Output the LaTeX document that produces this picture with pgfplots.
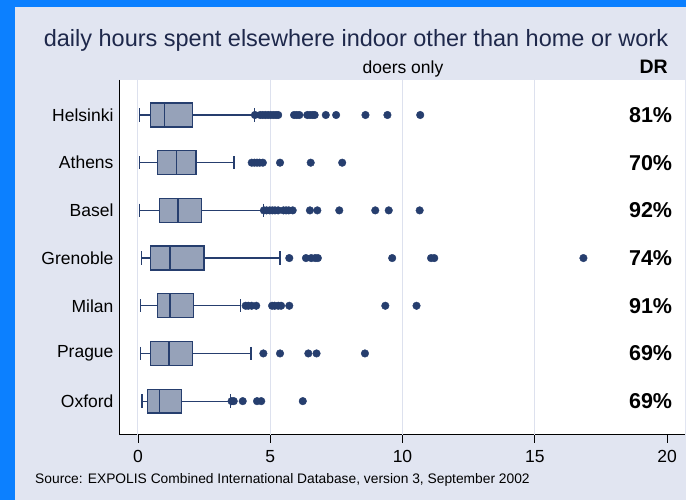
\documentclass[border=0pt]{standalone}
\usepackage{fontspec}
\setmainfont{Liberation Sans}
\usepackage{pgfplots}
\pgfplotsset{compat=1.18}
\usepgfplotslibrary{statistics}
\definecolor{bluebg}{RGB}{12,128,255}
\definecolor{lav}{RGB}{225,229,241}
\definecolor{navy}{RGB}{38,62,110}
\definecolor{boxfill}{RGB}{150,162,185}
\definecolor{gridc}{RGB}{221,225,238}
\definecolor{titlec}{RGB}{30,40,75}
\begin{document}
\begin{tikzpicture}
\fill[bluebg] (0,0) rectangle (686pt,500pt);
\fill[lav] (15pt,0) rectangle (686pt,493pt);
\node[anchor=base, text=titlec, font=\fontsize{23.5}{25}\selectfont, inner sep=0] at (356pt,453pt) {daily hours spent elsewhere indoor other than home or work};
\node[anchor=base, font=\fontsize{17.5}{18}\selectfont, inner sep=0] at (403pt,426pt) {doers only};
\node[anchor=base east, font=\fontsize{19.5}{20}\selectfont\bfseries, inner sep=0] at (668pt,426pt) {DR};
\node[anchor=base west, font=\fontsize{13.8}{15}\selectfont, inner sep=0] at (35pt,16pt) {Source: EXPOLIS Combined International Database, version 3, September 2002};
\begin{axis}[
  at={(120pt,65pt)}, anchor=south west,
  scale only axis, width=565pt, height=355pt,
  xmin=-0.68, xmax=20.68, ymin=0.266, ymax=7.71, y dir=reverse,
  axis background/.style={fill=white},
  axis x line*=bottom, axis y line*=left,
  axis line style={black, line width=1pt, -},
  xtick={0,5,10,15,20},
  extra x ticks={0,5,10,15}, extra x tick labels={},
  extra x tick style={grid=major, major tick length=0pt},
  grid style={gridc, line width=1pt},
  ytick={1,2,3,4,5,6,7},
  yticklabels={Helsinki,Athens,Basel,Grenoble,Milan,Prague,Oxford},
  ytick style={draw=none},
  x tick style={black, line width=0.8pt},
  major tick length=8pt, tick align=outside,
  tick label style={font=\fontsize{17.5}{18}\selectfont},
  xticklabel style={yshift=-4pt},
  yticklabel style={xshift=5pt},
  /pgf/number format/assume math mode=true,
  boxplot/draw direction=x,
  boxplot/box extend=0.5,
  boxplot/whisker extend=0.28,
  boxplot/every box/.style={draw=navy, fill=boxfill, line width=1.3pt},
  boxplot/every whisker/.style={draw=navy, line width=1.2pt},
  boxplot/every median/.style={draw=navy, line width=1.3pt},
  clip=false,
]
\pgfplotsset{bp/.style={color=navy, mark=*, mark size=3.8pt, mark options={fill=navy, draw=navy}}}
% Helsinki
\addplot[bp, boxplot prepared={draw position=1, lower whisker=0.05, lower quartile=0.48, median=1.0, upper quartile=2.05, upper whisker=4.39}]
 table[row sep=\\, y index=0] {4.42\\4.62\\4.72\\4.82\\4.92\\5.02\\5.12\\5.22\\5.3\\5.9\\6.0\\6.1\\6.4\\6.5\\6.6\\6.68\\7.1\\7.49\\8.6\\9.43\\10.67\\};
% Athens
\addplot[bp, boxplot prepared={draw position=2, lower whisker=0.05, lower quartile=0.73, median=1.46, upper quartile=2.19, upper whisker=3.63}]
 table[row sep=\\, y index=0] {4.3\\4.4\\4.5\\4.6\\4.72\\5.37\\6.53\\7.72\\};
% Basel
\addplot[bp, boxplot prepared={draw position=3, lower whisker=0.05, lower quartile=0.82, median=1.51, upper quartile=2.39, upper whisker=4.74}]
 table[row sep=\\, y index=0] {4.76\\4.86\\4.98\\5.08\\5.18\\5.3\\5.5\\5.6\\5.7\\5.85\\6.5\\6.78\\7.61\\8.97\\9.48\\10.65\\};
% Grenoble
\addplot[bp, boxplot prepared={draw position=4, lower whisker=0.14, lower quartile=0.48, median=1.21, upper quartile=2.5, upper whisker=5.37}]
 table[row sep=\\, y index=0] {5.72\\6.35\\6.55\\6.7\\6.8\\9.61\\11.08\\11.2\\16.84\\};
% Milan
\addplot[bp, boxplot prepared={draw position=5, lower whisker=0.08, lower quartile=0.74, median=1.21, upper quartile=2.1, upper whisker=3.89}]
 table[row sep=\\, y index=0] {4.07\\4.17\\4.3\\4.47\\5.07\\5.17\\5.3\\5.41\\5.72\\9.35\\10.53\\};
% Prague
\addplot[bp, boxplot prepared={draw position=6, lower whisker=0.1, lower quartile=0.48, median=1.17, upper quartile=2.05, upper whisker=4.27}]
 table[row sep=\\, y index=0] {4.74\\5.37\\6.44\\6.75\\8.58\\};
% Oxford
\addplot[bp, boxplot prepared={draw position=7, lower whisker=0.15, lower quartile=0.37, median=0.82, upper quartile=1.64, upper whisker=3.5}]
 table[row sep=\\, y index=0] {3.54\\3.62\\3.96\\4.5\\4.66\\6.23\\};
\node[anchor=east, font=\fontsize{21.5}{22}\selectfont\bfseries, inner sep=0] at (axis cs:20.2,1) {81\%};
\node[anchor=east, font=\fontsize{21.5}{22}\selectfont\bfseries, inner sep=0] at (axis cs:20.2,2) {70\%};
\node[anchor=east, font=\fontsize{21.5}{22}\selectfont\bfseries, inner sep=0] at (axis cs:20.2,3) {92\%};
\node[anchor=east, font=\fontsize{21.5}{22}\selectfont\bfseries, inner sep=0] at (axis cs:20.2,4) {74\%};
\node[anchor=east, font=\fontsize{21.5}{22}\selectfont\bfseries, inner sep=0] at (axis cs:20.2,5) {91\%};
\node[anchor=east, font=\fontsize{21.5}{22}\selectfont\bfseries, inner sep=0] at (axis cs:20.2,6) {69\%};
\node[anchor=east, font=\fontsize{21.5}{22}\selectfont\bfseries, inner sep=0] at (axis cs:20.2,7) {69\%};
\end{axis}
\end{tikzpicture}
\end{document}
